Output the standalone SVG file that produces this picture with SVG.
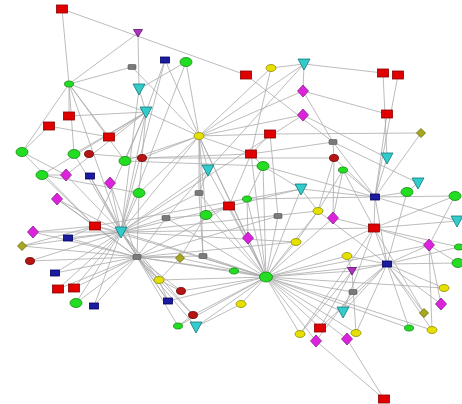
<svg xmlns="http://www.w3.org/2000/svg" xmlns:xlink="http://www.w3.org/1999/xlink" width="462" height="404" viewBox="0 0 462 404">
<style>
.e path{stroke:#ababab;stroke-width:0.8;fill:none}
.red{fill:#e00000;stroke:#8a0000;stroke-width:0.8}
.blue{fill:#1c1ca0;stroke:#000060;stroke-width:0.8}
.gray{fill:#7a7a7a;stroke:#505050;stroke-width:0.6}
.green{fill:#22dd22;stroke:#118a11;stroke-width:0.8}
.yellow{fill:#e6e000;stroke:#8f8a00;stroke-width:0.8}
.dred{fill:#b81414;stroke:#6a0000;stroke-width:0.8}
.cyan{fill:#33cccc;stroke:#117777;stroke-width:0.8}
.purple{fill:#b030c0;stroke:#601070;stroke-width:0.8}
.mag{fill:#dd22dd;stroke:#882288;stroke-width:0.8}
.olive{fill:#a8a820;stroke:#666600;stroke-width:0.8}
</style>
<defs>
<g id="s-red"><rect class="red" x="-5.5" y="-4" width="11" height="8"/></g>
<g id="s-blue"><rect class="blue" x="-4.5" y="-3" width="9" height="6"/></g>
<g id="s-gray"><rect class="gray" x="-4" y="-2.5" width="8" height="5" rx="1"/></g>
<g id="s-green"><ellipse class="green" rx="6" ry="4.5"/></g>
<g id="s-greenb"><ellipse class="green" rx="6.5" ry="5"/></g>
<g id="s-greens"><ellipse class="green" rx="4.5" ry="3"/></g>
<g id="s-yellow"><ellipse class="yellow" rx="5" ry="3.5"/></g>
<g id="s-dred"><ellipse class="dred" rx="4.5" ry="3.5"/></g>
<g id="s-cyan"><polygon class="cyan" points="-6,-5 6,-5 0,6"/></g>
<g id="s-purple"><polygon class="purple" points="-4.5,-3.5 4.5,-3.5 0,4"/></g>
<g id="s-mag"><polygon class="mag" points="0,-6 5.5,0 0,6 -5.5,0"/></g>
<g id="s-olive"><polygon class="olive" points="0,-4.5 4.5,0 0,4.5 -4.5,0"/></g>
</defs>
<rect width="462" height="404" fill="#ffffff"/>
<g id="connectors" class="e">
<path d="M62 9L69 84"/><path d="M62 9L246 75"/>
<path d="M138 33L69 84"/><path d="M138 33L139 89"/>
<path d="M132 67L69 84"/><path d="M132 67L199 136"/>
<path d="M69 84L146 112"/><path d="M69 84L69 116"/><path d="M69 84L22 152"/><path d="M69 84L109 137"/><path d="M69 84L125 161"/><path d="M69 84L74 154"/><path d="M69 84L121 232"/>
<path d="M139 89L146 112"/><path d="M139 89L121 232"/>
<path d="M146 112L69 116"/><path d="M146 112L109 137"/><path d="M146 112L74 154"/><path d="M146 112L125 161"/><path d="M146 112L66 175"/><path d="M146 112L139 193"/><path d="M146 112L121 232"/><path d="M146 112L95 226"/><path d="M146 112L199 136"/><path d="M146 112L42 175"/>
<path d="M49 126L109 137"/><path d="M49 126L22 152"/>
<path d="M165 60L146 112"/><path d="M165 60L199 136"/><path d="M165 60L121 232"/>
<path d="M186 62L199 136"/><path d="M186 62L121 232"/><path d="M186 62L139 89"/>
<path d="M246 75L333 142"/>
<path d="M271 68L251 154"/><path d="M271 68L304 64"/><path d="M271 68L199 136"/>
<path d="M304 64L383 73"/><path d="M304 64L303 91"/><path d="M304 64L199 136"/><path d="M304 64L208 170"/>
<path d="M303 91L387 114"/><path d="M303 91L333 142"/><path d="M303 91L199 136"/>
<path d="M303 115L199 136"/><path d="M303 115L387 158"/><path d="M303 115L121 232"/>
<path d="M270 134L199 136"/><path d="M270 134L251 154"/><path d="M270 134L421 133"/>
<path d="M383 73L387 158"/><path d="M398 75L375 197"/><path d="M387 114L375 197"/><path d="M421 133L375 197"/>
<path d="M199 136L208 170"/><path d="M199 136L199 193"/><path d="M199 136L206 215"/><path d="M199 136L121 232"/><path d="M199 136L125 161"/><path d="M199 136L139 193"/><path d="M199 136L266 277"/><path d="M199 136L251 154"/><path d="M199 136L142 158"/><path d="M199 136L203 256"/>
<path d="M22 152L66 175"/><path d="M22 152L95 226"/><path d="M74 154L121 232"/><path d="M89 154L142 158"/><path d="M125 161L263 166"/><path d="M142 158L334 158"/><path d="M142 158L251 154"/>
<path d="M42 175L66 175"/><path d="M42 175L95 226"/><path d="M42 175L139 193"/><path d="M66 175L121 232"/>
<path d="M90 176L121 232"/><path d="M90 176L137 257"/><path d="M110 183L121 232"/><path d="M110 183L137 257"/><path d="M139 193L121 232"/><path d="M139 193L137 257"/>
<path d="M57 199L95 226"/><path d="M57 199L121 232"/><path d="M57 199L137 257"/>
<path d="M95 226L121 232"/><path d="M95 226L33 232"/><path d="M95 226L68 238"/><path d="M95 226L22 246"/><path d="M95 226L137 257"/><path d="M95 226L266 277"/><path d="M95 226L301 189"/>
<path d="M121 232L33 232"/><path d="M121 232L68 238"/><path d="M121 232L22 246"/><path d="M121 232L30 261"/><path d="M121 232L55 273"/><path d="M121 232L58 289"/><path d="M121 232L74 288"/><path d="M121 232L76 303"/><path d="M121 232L94 306"/><path d="M121 232L137 257"/><path d="M121 232L301 189"/><path d="M121 232L296 242"/><path d="M121 232L374 228"/><path d="M121 232L166 218"/><path d="M121 232L199 193"/><path d="M121 232L208 170"/><path d="M121 232L266 277"/><path d="M121 232L159 280"/><path d="M121 232L193 315"/><path d="M121 232L168 301"/><path d="M121 232L318 211"/>
<path d="M137 257L33 232"/><path d="M137 257L68 238"/><path d="M137 257L22 246"/><path d="M137 257L30 261"/><path d="M137 257L55 273"/><path d="M137 257L58 289"/><path d="M137 257L74 288"/><path d="M137 257L76 303"/><path d="M137 257L94 306"/><path d="M137 257L266 277"/><path d="M137 257L181 291"/><path d="M137 257L168 301"/><path d="M137 257L193 315"/><path d="M137 257L196 327"/><path d="M137 257L178 326"/><path d="M137 257L159 280"/><path d="M137 257L203 256"/><path d="M137 257L180 258"/><path d="M137 257L166 218"/><path d="M137 257L229 206"/><path d="M137 257L278 216"/><path d="M137 257L296 242"/>
<path d="M251 154L263 166"/><path d="M251 154L266 277"/><path d="M251 154L333 142"/><path d="M251 154L229 206"/>
<path d="M263 166L266 277"/><path d="M263 166L301 189"/><path d="M263 166L375 197"/>
<path d="M208 170L199 193"/><path d="M208 170L166 218"/><path d="M208 170L266 277"/>
<path d="M301 189L318 211"/><path d="M301 189L375 197"/><path d="M301 189L266 277"/>
<path d="M199 193L203 256"/><path d="M199 193L266 277"/>
<path d="M247 199L266 277"/><path d="M247 199L263 166"/>
<path d="M229 206L266 277"/><path d="M229 206L206 215"/>
<path d="M206 215L166 218"/><path d="M206 215L266 277"/><path d="M206 215L180 258"/>
<path d="M166 218L266 277"/>
<path d="M278 216L266 277"/><path d="M278 216L270 134"/>
<path d="M248 238L266 277"/><path d="M248 238L247 199"/><path d="M248 238L199 136"/>
<path d="M296 242L266 277"/><path d="M296 242L318 211"/>
<path d="M180 258L266 277"/><path d="M180 258L159 280"/><path d="M203 256L266 277"/>
<path d="M234 271L266 277"/><path d="M234 271L137 257"/>
<path d="M333 142L334 158"/><path d="M333 142L375 197"/><path d="M333 142L418 183"/>
<path d="M334 158L318 211"/><path d="M334 158L375 197"/><path d="M334 158L333 218"/>
<path d="M343 170L375 197"/><path d="M343 170L374 228"/><path d="M387 158L375 197"/>
<path d="M418 183L407 192"/><path d="M407 192L375 197"/><path d="M407 192L387 264"/>
<path d="M375 197L455 196"/><path d="M375 197L374 228"/><path d="M375 197L387 264"/><path d="M375 197L247 199"/><path d="M375 197L457 221"/>
<path d="M455 196L374 228"/>
<path d="M374 228L333 218"/><path d="M374 228L429 245"/><path d="M374 228L459 247"/><path d="M374 228L457 221"/><path d="M374 228L387 264"/><path d="M374 228L343 312"/><path d="M374 228L300 334"/><path d="M374 228L266 277"/>
<path d="M318 211L343 170"/><path d="M318 211L266 277"/><path d="M333 218L343 170"/><path d="M333 218L266 277"/>
<path d="M429 245L387 264"/><path d="M429 245L455 196"/><path d="M429 245L458 263"/>
<path d="M387 264L458 263"/><path d="M387 264L459 247"/><path d="M387 264L444 288"/><path d="M387 264L441 304"/><path d="M387 264L424 313"/><path d="M387 264L409 328"/><path d="M387 264L432 330"/><path d="M387 264L353 292"/><path d="M387 264L352 271"/><path d="M387 264L356 333"/><path d="M387 264L320 328"/><path d="M387 264L266 277"/><path d="M387 264L347 256"/><path d="M387 264L343 312"/><path d="M387 264L318 211"/>
<path d="M266 277L241 304"/><path d="M266 277L300 334"/><path d="M266 277L320 328"/><path d="M266 277L316 341"/><path d="M266 277L347 339"/><path d="M266 277L356 333"/><path d="M266 277L343 312"/><path d="M266 277L353 292"/><path d="M266 277L352 271"/><path d="M266 277L432 330"/><path d="M266 277L409 328"/><path d="M266 277L444 288"/><path d="M266 277L347 256"/><path d="M266 277L181 291"/><path d="M266 277L168 301"/><path d="M266 277L193 315"/><path d="M266 277L159 280"/><path d="M266 277L196 327"/><path d="M266 277L178 326"/><path d="M266 277L429 245"/>
<path d="M241 304L196 327"/><path d="M168 301L159 280"/><path d="M181 291L159 280"/><path d="M178 326L193 315"/>
<path d="M316 341L384 399"/><path d="M347 339L384 399"/><path d="M320 328L352 271"/><path d="M316 341L353 292"/><path d="M356 333L352 271"/><path d="M347 256L352 271"/><path d="M300 334L352 271"/>
<path d="M424 313L374 228"/><path d="M432 330L429 245"/><path d="M441 304L429 245"/>
</g>
<g id="n1"><use xlink:href="#s-red" x="62" y="9"/></g>
<g id="n2"><use xlink:href="#s-purple" x="138" y="33"/></g>
<g id="n3"><use xlink:href="#s-gray" x="132" y="67"/></g>
<g id="n4"><use xlink:href="#s-greens" x="69" y="84"/></g>
<g id="n5"><use xlink:href="#s-cyan" x="139" y="89"/></g>
<g id="n6"><use xlink:href="#s-cyan" x="146" y="112"/></g>
<g id="n7"><use xlink:href="#s-red" x="69" y="116"/></g>
<g id="n8"><use xlink:href="#s-red" x="49" y="126"/></g>
<g id="n9"><use xlink:href="#s-red" x="109" y="137"/></g>
<g id="n10"><use xlink:href="#s-blue" x="165" y="60"/></g>
<g id="n11"><use xlink:href="#s-green" x="186" y="62"/></g>
<g id="n12"><use xlink:href="#s-red" x="246" y="75"/></g>
<g id="n13"><use xlink:href="#s-yellow" x="271" y="68"/></g>
<g id="n14"><use xlink:href="#s-cyan" x="304" y="64"/></g>
<g id="n15"><use xlink:href="#s-mag" x="303" y="91"/></g>
<g id="n16"><use xlink:href="#s-mag" x="303" y="115"/></g>
<g id="n17"><use xlink:href="#s-yellow" x="199" y="136"/></g>
<g id="n18"><use xlink:href="#s-red" x="270" y="134"/></g>
<g id="n19"><use xlink:href="#s-red" x="383" y="73"/></g>
<g id="n20"><use xlink:href="#s-red" x="398" y="75"/></g>
<g id="n21"><use xlink:href="#s-red" x="387" y="114"/></g>
<g id="n22"><use xlink:href="#s-olive" x="421" y="133"/></g>
<g id="n23"><use xlink:href="#s-green" x="22" y="152"/></g>
<g id="n24"><use xlink:href="#s-green" x="74" y="154"/></g>
<g id="n25"><use xlink:href="#s-dred" x="89" y="154"/></g>
<g id="n26"><use xlink:href="#s-green" x="125" y="161"/></g>
<g id="n27"><use xlink:href="#s-dred" x="142" y="158"/></g>
<g id="n28"><use xlink:href="#s-green" x="42" y="175"/></g>
<g id="n29"><use xlink:href="#s-mag" x="66" y="175"/></g>
<g id="n30"><use xlink:href="#s-blue" x="90" y="176"/></g>
<g id="n31"><use xlink:href="#s-mag" x="110" y="183"/></g>
<g id="n32"><use xlink:href="#s-green" x="139" y="193"/></g>
<g id="n33"><use xlink:href="#s-mag" x="57" y="199"/></g>
<g id="n34"><use xlink:href="#s-red" x="95" y="226"/></g>
<g id="n35"><use xlink:href="#s-cyan" x="121" y="232"/></g>
<g id="n36"><use xlink:href="#s-mag" x="33" y="232"/></g>
<g id="n37"><use xlink:href="#s-blue" x="68" y="238"/></g>
<g id="n38"><use xlink:href="#s-olive" x="22" y="246"/></g>
<g id="n39"><use xlink:href="#s-gray" x="137" y="257"/></g>
<g id="n40"><use xlink:href="#s-dred" x="30" y="261"/></g>
<g id="n41"><use xlink:href="#s-red" x="251" y="154"/></g>
<g id="n42"><use xlink:href="#s-green" x="263" y="166"/></g>
<g id="n43"><use xlink:href="#s-cyan" x="208" y="170"/></g>
<g id="n44"><use xlink:href="#s-cyan" x="301" y="189"/></g>
<g id="n45"><use xlink:href="#s-gray" x="199" y="193"/></g>
<g id="n46"><use xlink:href="#s-greens" x="247" y="199"/></g>
<g id="n47"><use xlink:href="#s-red" x="229" y="206"/></g>
<g id="n48"><use xlink:href="#s-green" x="206" y="215"/></g>
<g id="n49"><use xlink:href="#s-gray" x="166" y="218"/></g>
<g id="n50"><use xlink:href="#s-gray" x="278" y="216"/></g>
<g id="n51"><use xlink:href="#s-mag" x="248" y="238"/></g>
<g id="n52"><use xlink:href="#s-yellow" x="296" y="242"/></g>
<g id="n53"><use xlink:href="#s-olive" x="180" y="258"/></g>
<g id="n54"><use xlink:href="#s-gray" x="203" y="256"/></g>
<g id="n55"><use xlink:href="#s-greens" x="234" y="271"/></g>
<g id="n56"><use xlink:href="#s-gray" x="333" y="142"/></g>
<g id="n57"><use xlink:href="#s-dred" x="334" y="158"/></g>
<g id="n58"><use xlink:href="#s-cyan" x="387" y="158"/></g>
<g id="n59"><use xlink:href="#s-greens" x="343" y="170"/></g>
<g id="n60"><use xlink:href="#s-cyan" x="418" y="183"/></g>
<g id="n61"><use xlink:href="#s-green" x="407" y="192"/></g>
<g id="n62"><use xlink:href="#s-blue" x="375" y="197"/></g>
<g id="n63"><use xlink:href="#s-green" x="455" y="196"/></g>
<g id="n64"><use xlink:href="#s-yellow" x="318" y="211"/></g>
<g id="n65"><use xlink:href="#s-mag" x="333" y="218"/></g>
<g id="n66"><use xlink:href="#s-red" x="374" y="228"/></g>
<g id="n67"><use xlink:href="#s-cyan" x="457" y="221"/></g>
<g id="n68"><use xlink:href="#s-mag" x="429" y="245"/></g>
<g id="n69"><use xlink:href="#s-greens" x="459" y="247"/></g>
<g id="n70"><use xlink:href="#s-yellow" x="347" y="256"/></g>
<g id="n71"><use xlink:href="#s-blue" x="387" y="264"/></g>
<g id="n72"><use xlink:href="#s-purple" x="352" y="271"/></g>
<g id="n73"><use xlink:href="#s-green" x="458" y="263"/></g>
<g id="n74"><use xlink:href="#s-blue" x="55" y="273"/></g>
<g id="n75"><use xlink:href="#s-red" x="58" y="289"/></g>
<g id="n76"><use xlink:href="#s-red" x="74" y="288"/></g>
<g id="n77"><use xlink:href="#s-green" x="76" y="303"/></g>
<g id="n78"><use xlink:href="#s-blue" x="94" y="306"/></g>
<g id="n79"><use xlink:href="#s-yellow" x="159" y="280"/></g>
<g id="n80"><use xlink:href="#s-greenb" x="266" y="277"/></g>
<g id="n81"><use xlink:href="#s-dred" x="181" y="291"/></g>
<g id="n82"><use xlink:href="#s-blue" x="168" y="301"/></g>
<g id="n83"><use xlink:href="#s-yellow" x="241" y="304"/></g>
<g id="n84"><use xlink:href="#s-dred" x="193" y="315"/></g>
<g id="n85"><use xlink:href="#s-greens" x="178" y="326"/></g>
<g id="n86"><use xlink:href="#s-cyan" x="196" y="327"/></g>
<g id="n87"><use xlink:href="#s-yellow" x="300" y="334"/></g>
<g id="n88"><use xlink:href="#s-gray" x="353" y="292"/></g>
<g id="n89"><use xlink:href="#s-yellow" x="444" y="288"/></g>
<g id="n90"><use xlink:href="#s-mag" x="441" y="304"/></g>
<g id="n91"><use xlink:href="#s-cyan" x="343" y="312"/></g>
<g id="n92"><use xlink:href="#s-olive" x="424" y="313"/></g>
<g id="n93"><use xlink:href="#s-greens" x="409" y="328"/></g>
<g id="n94"><use xlink:href="#s-yellow" x="432" y="330"/></g>
<g id="n95"><use xlink:href="#s-red" x="320" y="328"/></g>
<g id="n96"><use xlink:href="#s-mag" x="316" y="341"/></g>
<g id="n97"><use xlink:href="#s-mag" x="347" y="339"/></g>
<g id="n98"><use xlink:href="#s-yellow" x="356" y="333"/></g>
<g id="n99"><use xlink:href="#s-red" x="384" y="399"/></g>
</svg>
